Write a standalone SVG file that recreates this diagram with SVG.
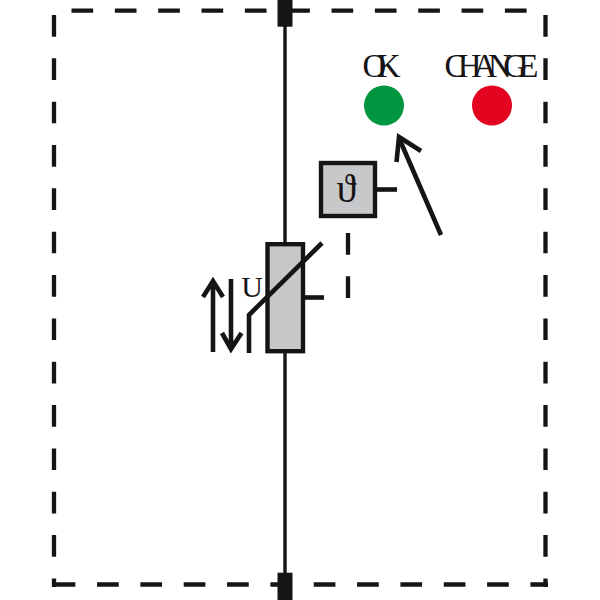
<svg xmlns="http://www.w3.org/2000/svg" width="600" height="600" viewBox="0 0 600 600">
<style>
.l{fill:none;stroke:#161415;stroke-width:4.600;stroke-linejoin:miter;stroke-linecap:butt}
.d{stroke-dasharray:21.67 21.67;stroke-width:4.300}
.t{font-family:"Liberation Serif","Times New Roman",serif;fill:#161415;font-size:33px}
.b{fill:#c6c8ca;stroke:#161415;stroke-width:4.400}
</style>
<rect width="600" height="600" fill="#fff"/>
<g id="frame">
<path class="l d" d="M71.500 10.700H546"/>
<path class="l d" d="M54 15V587"/>
<path class="l d" d="M545.500 15V587"/>
<path class="l d" d="M53.700 584.500H548"/>
</g>
<g id="connectors">
<path class="l" style="stroke-width:3.400" d="M285 20V242M285 353V580"/>
<path class="l" d="M377 189.500H397"/>
<path class="l" d="M305 297.500H324"/>
<path class="l d" d="M348 233V299"/>
<path class="l" d="M441 235L399 138"/>
<path class="l" d="M396.500 162L399 137L421 151"/>
<path class="l" d="M213 352V282M203 297L213 281L223 297"/>
<path class="l" d="M231 279V349M222 333L231 349L241.500 333"/>
</g>
<g id="terminal-top"><rect x="277.500" y="0" width="15" height="26.700" fill="#161415"/></g>
<g id="terminal-bottom"><rect x="277.500" y="572.700" width="15" height="27.300" fill="#161415"/></g>
<g id="varistor">
<rect class="b" x="267.500" y="244.200" width="35.500" height="107"/>
<path class="l" d="M322 243L249 315V353"/>
<text class="t" x="252" y="297" text-anchor="middle" style="font-size:30px">U</text>
</g>
<g id="thermal">
<rect class="b" x="321" y="163" width="54" height="53"/>
<text class="t" x="346.500" y="202" text-anchor="middle" style="font-size:40px">ϑ</text>
</g>
<g id="ok">
<text class="t" x="362.500" y="76.500" letter-spacing="-9.500">OK</text>
<circle cx="384" cy="105.500" r="20" fill="#009640"/>
</g>
<g id="change">
<text class="t" x="444.500" y="76.500" letter-spacing="-8.700">CHANGE</text>
<circle cx="492" cy="105.500" r="20" fill="#e30420"/>
</g>
</svg>
